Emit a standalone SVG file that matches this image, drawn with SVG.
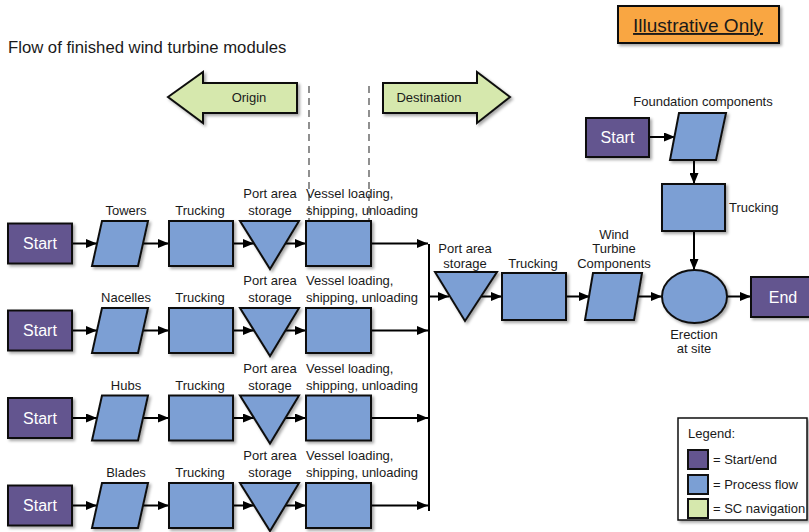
<svg xmlns="http://www.w3.org/2000/svg" width="809" height="532" viewBox="0 0 809 532">
  <style>
    text { font-family: "Liberation Sans", Arial, sans-serif; fill: #1a1a1a; }
    .lbl { font-size: 13px; text-anchor: middle; }
    .lft { font-size: 13px; text-anchor: start; }
    .term { fill: #64558f; stroke: #111; stroke-width: 2; filter: url(#shadow); }
    .proc { fill: #7b9fd4; stroke: #111; stroke-width: 2; stroke-linejoin: miter; filter: url(#shadow); }
    .nav { fill: #d6e8ad; stroke: #111; stroke-width: 2; filter: url(#shadow); }
    .tt { font-size: 16px; fill: #ffffff; text-anchor: middle; }
    .conn { stroke: #000; stroke-width: 2; fill: none; marker-end: url(#arr); }
    .line { stroke: #000; stroke-width: 2; fill: none; }
    .dash { stroke: #555; stroke-width: 1.3; stroke-dasharray: 7 5; fill: none; }
  </style>
  <defs>
    <filter id="shadow" x="-20%" y="-20%" width="150%" height="150%">
      <feDropShadow dx="2" dy="2" stdDeviation="1.5" flood-color="#000" flood-opacity="0.35"/>
    </filter>
    <marker id="arr" markerUnits="userSpaceOnUse" markerWidth="11" markerHeight="9" refX="11" refY="4.5" orient="auto">
      <path d="M0,0 L11,4.5 L0,9 z" fill="#000"/>
    </marker>
  </defs>

  <rect width="809" height="532" fill="#ffffff"/>

  <!-- Title and badge -->
  <g id="title">
    <text x="8" y="53" font-size="16.7">Flow of finished wind turbine modules</text>
  </g>
  <g id="illustrative">
    <rect x="618" y="6" width="161" height="37" fill="#f9a643" stroke="#111" stroke-width="2" filter="url(#shadow)"/>
    <text x="698" y="32" font-size="19" text-anchor="middle" text-decoration="underline">Illustrative Only</text>
  </g>

  <!-- Navigation arrows -->
  <g id="nav-origin">
    <polygon class="nav" points="168,97 203,72 203,83 297,83 297,113 203,113 203,123"/>
    <text x="249" y="102" class="lbl">Origin</text>
  </g>
  <g id="nav-destination">
    <polygon class="nav" points="510,97 477,72 477,83 383,83 383,113 477,113 477,123"/>
    <text x="429" y="102" class="lbl">Destination</text>
  </g>

  <!-- Connectors -->
  <g id="connectors">
    <line class="dash" x1="309" y1="86" x2="309" y2="221"/>
    <line class="dash" x1="369" y1="86" x2="369" y2="221"/>

    <!-- row Towers -->
    <line class="conn" x1="72" y1="243.5" x2="97" y2="243.5"/>
    <line class="conn" x1="143" y1="243.5" x2="169" y2="243.5"/>
    <line class="conn" x1="233" y1="243.5" x2="254" y2="243.5"/>
    <line class="conn" x1="285" y1="243.5" x2="306" y2="243.5"/>
    <line class="conn" x1="371" y1="243.5" x2="428" y2="243.5"/>
    <!-- row Nacelles -->
    <line class="conn" x1="72" y1="330.5" x2="97" y2="330.5"/>
    <line class="conn" x1="143" y1="330.5" x2="169" y2="330.5"/>
    <line class="conn" x1="233" y1="330.5" x2="254" y2="330.5"/>
    <line class="conn" x1="285" y1="330.5" x2="306" y2="330.5"/>
    <line class="conn" x1="371" y1="330.5" x2="428" y2="330.5"/>
    <!-- row Hubs -->
    <line class="conn" x1="72" y1="418" x2="97" y2="418"/>
    <line class="conn" x1="143" y1="418" x2="169" y2="418"/>
    <line class="conn" x1="233" y1="418" x2="254" y2="418"/>
    <line class="conn" x1="285" y1="418" x2="306" y2="418"/>
    <line class="conn" x1="371" y1="418" x2="428" y2="418"/>
    <!-- row Blades -->
    <line class="conn" x1="72" y1="505.5" x2="97" y2="505.5"/>
    <line class="conn" x1="143" y1="505.5" x2="169" y2="505.5"/>
    <line class="conn" x1="233" y1="505.5" x2="254" y2="505.5"/>
    <line class="conn" x1="285" y1="505.5" x2="306" y2="505.5"/>
    <line class="conn" x1="371" y1="505.5" x2="428" y2="505.5"/>

    <!-- merge bar -->
    <line class="line" x1="429" y1="244" x2="429" y2="511"/>

    <!-- destination chain -->
    <line class="conn" x1="429" y1="296.5" x2="449" y2="296.5"/>
    <line class="conn" x1="480" y1="296.5" x2="502" y2="296.5"/>
    <line class="conn" x1="566" y1="296.5" x2="590" y2="296.5"/>
    <line class="conn" x1="637" y1="296.5" x2="662" y2="296.5"/>
    <line class="conn" x1="727" y1="296.5" x2="751" y2="296.5"/>

    <!-- foundation chain -->
    <line class="conn" x1="649" y1="137" x2="675" y2="137"/>
    <line class="conn" x1="694" y1="160" x2="694" y2="184"/>
    <line class="conn" x1="694" y1="231" x2="694" y2="270"/>
  </g>

  <!-- Row: Towers -->
  <g id="towers-start"><rect class="term" x="8" y="223.5" width="64" height="40"/><text class="tt" x="40" y="249">Start</text></g>
  <g id="towers"><polygon class="proc" points="102,221 148,221 138,266 92,266"/><text class="lbl" x="126" y="215">Towers</text></g>
  <g id="towers-trucking"><rect class="proc" x="169" y="221" width="64" height="45"/><text class="lbl" x="200" y="215">Trucking</text></g>
  <g id="towers-storage"><polygon class="proc" points="240,221 299,221 270,269"/><text class="lbl" x="270" y="198">Port area</text><text class="lbl" x="270" y="215">storage</text></g>
  <g id="towers-vessel"><rect class="proc" x="306" y="221" width="65" height="45"/><text class="lft" x="306" y="198">Vessel loading,</text><text class="lft" x="306" y="215">shipping, unloading</text></g>

  <!-- Row: Nacelles -->
  <g id="nacelles-start"><rect class="term" x="8" y="310.5" width="64" height="40"/><text class="tt" x="40" y="336">Start</text></g>
  <g id="nacelles"><polygon class="proc" points="102,308 148,308 138,353 92,353"/><text class="lbl" x="126" y="302">Nacelles</text></g>
  <g id="nacelles-trucking"><rect class="proc" x="169" y="308" width="64" height="45"/><text class="lbl" x="200" y="302">Trucking</text></g>
  <g id="nacelles-storage"><polygon class="proc" points="240,308 299,308 270,356"/><text class="lbl" x="270" y="285">Port area</text><text class="lbl" x="270" y="302">storage</text></g>
  <g id="nacelles-vessel"><rect class="proc" x="306" y="308" width="65" height="45"/><text class="lft" x="306" y="285">Vessel loading,</text><text class="lft" x="306" y="302">shipping, unloading</text></g>

  <!-- Row: Hubs -->
  <g id="hubs-start"><rect class="term" x="8" y="398" width="64" height="40"/><text class="tt" x="40" y="423.5">Start</text></g>
  <g id="hubs"><polygon class="proc" points="102,395.5 148,395.5 138,440.5 92,440.5"/><text class="lbl" x="126" y="389.5">Hubs</text></g>
  <g id="hubs-trucking"><rect class="proc" x="169" y="395.5" width="64" height="45"/><text class="lbl" x="200" y="389.5">Trucking</text></g>
  <g id="hubs-storage"><polygon class="proc" points="240,395.5 299,395.5 270,443.5"/><text class="lbl" x="270" y="372.5">Port area</text><text class="lbl" x="270" y="389.5">storage</text></g>
  <g id="hubs-vessel"><rect class="proc" x="306" y="395.5" width="65" height="45"/><text class="lft" x="306" y="372.5">Vessel loading,</text><text class="lft" x="306" y="389.5">shipping, unloading</text></g>

  <!-- Row: Blades -->
  <g id="blades-start"><rect class="term" x="8" y="485.5" width="64" height="40"/><text class="tt" x="40" y="511">Start</text></g>
  <g id="blades"><polygon class="proc" points="102,483 148,483 138,528 92,528"/><text class="lbl" x="126" y="477">Blades</text></g>
  <g id="blades-trucking"><rect class="proc" x="169" y="483" width="64" height="45"/><text class="lbl" x="200" y="477">Trucking</text></g>
  <g id="blades-storage"><polygon class="proc" points="240,483 299,483 270,531"/><text class="lbl" x="270" y="460">Port area</text><text class="lbl" x="270" y="477">storage</text></g>
  <g id="blades-vessel"><rect class="proc" x="306" y="483" width="65" height="45"/><text class="lft" x="306" y="460">Vessel loading,</text><text class="lft" x="306" y="477">shipping, unloading</text></g>

  <!-- Destination chain -->
  <g id="dest-storage"><polygon class="proc" points="435,272 497,272 465,321"/><text class="lbl" x="465" y="252.5">Port area</text><text class="lbl" x="465" y="268">storage</text></g>
  <g id="dest-trucking"><rect class="proc" x="502" y="273" width="64" height="47"/><text class="lbl" x="533" y="268">Trucking</text></g>
  <g id="wind-turbine-components"><polygon class="proc" points="593,273 642,273 634,320 585,320"/><text class="lbl" x="614" y="238.5">Wind</text><text class="lbl" x="614" y="253">Turbine</text><text class="lbl" x="614" y="268">Components</text></g>
  <g id="erection"><ellipse class="proc" cx="694.5" cy="296.5" rx="32.5" ry="26.5"/><text class="lbl" x="694" y="339">Erection</text><text class="lbl" x="694" y="353">at site</text></g>
  <g id="end"><rect class="term" x="751" y="277" width="64" height="40"/><text class="tt" x="783" y="302.5">End</text></g>

  <!-- Foundation chain -->
  <g id="foundation-start"><rect class="term" x="586" y="118" width="63" height="39"/><text class="tt" x="617.5" y="143">Start</text></g>
  <g id="foundation-components"><polygon class="proc" points="679,113 726,113 716,160 670,160"/><text class="lbl" x="703" y="105.5">Foundation components</text></g>
  <g id="foundation-trucking"><rect class="proc" x="662" y="184" width="63" height="47"/><text class="lft" x="729" y="211.5">Trucking</text></g>

  <!-- Legend -->
  <g id="legend">
    <rect x="678" y="418" width="129" height="102" fill="#ffffff" stroke="#111" stroke-width="1.5" filter="url(#shadow)"/>
    <text class="lft" x="688" y="438">Legend:</text>
    <rect x="688" y="450" width="20" height="19" fill="#64558f" stroke="#111" stroke-width="2"/>
    <text class="lft" x="713" y="464">= Start/end</text>
    <rect x="688" y="475" width="20" height="19" fill="#7b9fd4" stroke="#111" stroke-width="2"/>
    <text class="lft" x="713" y="489">= Process flow</text>
    <rect x="688" y="499" width="20" height="19" fill="#d6e8ad" stroke="#111" stroke-width="2"/>
    <text class="lft" x="713" y="513">= SC navigation</text>
  </g>
</svg>
